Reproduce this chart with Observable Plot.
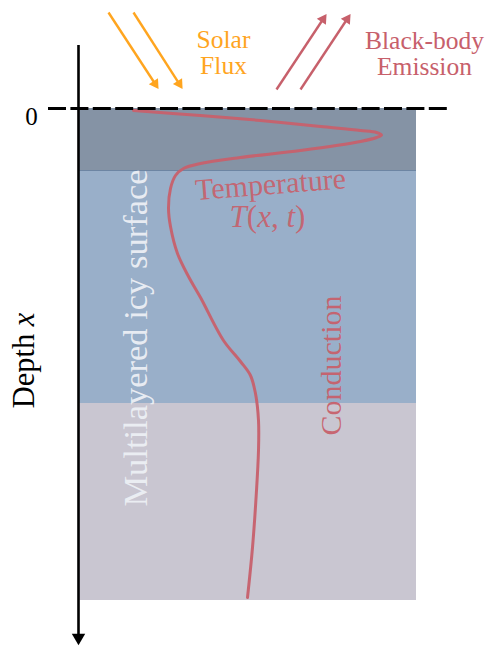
<!DOCTYPE html>
<html><head><meta charset="utf-8">
<script src="https://cdn.jsdelivr.net/npm/d3@7"></script>
<script src="https://cdn.jsdelivr.net/npm/@observablehq/plot@0.6"></script>
<style>body{margin:0;background:#fff}#chart svg{display:block}#chart svg text{font-family:'Liberation Serif','Times New Roman',serif}</style>
</head><body><div id="chart"></div>
<script>
// Layers of the icy surface (depth units, 0 = surface)
const layerNames = ["Surface layer", "Middle layer", "Deep layer"];
const layerTop = [0, 62, 295];
const layerBottom = [62, 295, 492];
const layerColors = ["#8593a5", "#99afc9", "#c9c6d1"];

// Temperature profile T(x,t): horizontal position vs depth
const tempX =     [133, 200, 260, 320, 360, 376, 381, 376, 360, 300, 240, 200, 183, 175, 170, 168, 170, 177, 188, 200, 223, 240, 250, 255, 258, 258, 256, 252, 247];
const tempDepth = [  2,   7,  12,  18,  22,  24,  26.5, 29, 33,  42,  49,  55,  60,  67,  80, 100, 118, 145, 168, 189, 232, 253, 267, 285, 312, 342, 382, 439, 489];

// Incoming solar flux arrows and outgoing black-body emission arrows
const solarX1 = [108, 133], solarD1 = [-96, -96], solarX2 = [159, 183], solarD2 = [-18, -18];
const emitX1 = [276, 300], emitD1 = [-19, -19], emitX2 = [327, 351], emitD2 = [-96, -96];

const labels = ["0", "Solar", "Flux", "Black-body", "Emission", "Temperature", "T(x, t)", "Multilayered icy surface", "Conduction", "Depth x"];

const orange = "#ffa51f";
const red = "#c7606b";

const layers = layerNames.map((n, i) => ({name: n, top: layerTop[i], bottom: layerBottom[i], color: layerColors[i]}));
const temp = tempX.map((x, i) => ({x, d: tempDepth[i]}));

function arrows(x1s, d1s, x2s, d2s) {
  return x1s.map((x1, i) => {
    const d1 = d1s[i], x2 = x2s[i], d2 = d2s[i];
    const dx = x2 - x1, dy = d2 - d1, L = Math.hypot(dx, dy), ux = dx / L, uy = dy / L;
    return {x1, d1, x2: x2 - 6 * ux, d2: d2 - 6 * uy, hx: x2 - 8 * ux, hd: d2 - 8 * uy,
            rot: Math.atan2(dx, -dy) * 180 / Math.PI};
  });
}
const solar = arrows(solarX1, solarD1, solarX2, solarD2);
const emit = arrows(emitX1, emitD1, emitX2, emitD2);

const F = "'Liberation Serif', serif";
const T = (label, o) => Plot.text([label], {text: d => d, fontFamily: F, ...o});
const plot = Plot.plot({
  width: 490, height: 646,
  margin: 0,
  x: {domain: [0, 490], range: [0, 490], axis: null},
  y: {domain: [-108, 538], range: [0, 646], axis: null},
  style: {fontFamily: F, background: "#fff", overflow: "visible"},
  marks: [
    Plot.rectY(layers, {x1: 78, x2: 416, y1: "top", y2: "bottom", fill: "color"}),
    Plot.ruleY([layerBottom[0]], {x1: 78, x2: 416, stroke: "#6d85a3", strokeWidth: 1}),
    T(labels[7], {x: 135.5, y: 229.5, rotate: -90, fontSize: 34.5, fill: "#edf0f5", fillOpacity: 0.95}),
    T(labels[8], {x: 330.5, y: 257, rotate: -90, fontSize: 30, fill: red, fillOpacity: 0.95}),
    T(labels[5], {x: 270, y: 76, rotate: -4.5, fontSize: 30, fill: red, fillOpacity: 0.92}),
    T(labels[6], {x: 267, y: 109, fontSize: 31, fill: red, fillOpacity: 0.92}),
    Plot.line(temp, {x: "x", y: "d", curve: "catmull-rom", stroke: red, strokeWidth: 3, strokeOpacity: 0.95}),
    Plot.ruleY([0], {x1: 48, x2: 447.6, stroke: "#000", strokeWidth: 3, strokeDasharray: "18,4.4"}),
    Plot.ruleX([78], {y1: -63, y2: 530, stroke: "#000", strokeWidth: 2.6}),
    Plot.dot([{x: 78, d: 529}], {x: "x", y: "d", symbol: "triangle2", r: 6.4, rotate: 180, fill: "#000", stroke: "none"}),
    Plot.link(solar, {x1: "x1", y1: "d1", x2: "x2", y2: "d2", stroke: orange, strokeWidth: 2.4}),
    Plot.dot(solar, {x: "hx", y: "hd", symbol: "triangle2", r: 5.2, rotate: "rot", fill: orange, stroke: "none"}),
    Plot.link(emit, {x1: "x1", y1: "d1", x2: "x2", y2: "d2", stroke: red, strokeWidth: 2.4}),
    Plot.dot(emit, {x: "hx", y: "hd", symbol: "triangle2", r: 5.2, rotate: "rot", fill: red, stroke: "none"}),
    T(labels[0], {x: 31, y: 8, fontSize: 25, fill: "#000"}),
    T(labels[1], {x: 223, y: -68.5, fontSize: 25.5, fill: orange}),
    T(labels[2], {x: 223, y: -43, fontSize: 25.5, fill: orange}),
    T(labels[3], {x: 424, y: -67.5, fontSize: 25.5, fill: red}),
    T(labels[4], {x: 424, y: -42, fontSize: 25.5, fill: red}),
    T(labels[9], {x: 24, y: 252, rotate: -90, fontSize: 30.5, fill: "#000"})
  ]
});
document.getElementById("chart").appendChild(plot);

// italic math variables
d3.select(plot).selectAll("text").each(function() {
  const t = this.textContent;
  if (t === "T(x, t)") this.innerHTML = '<tspan font-style="italic">T</tspan>(<tspan font-style="italic">x</tspan>, <tspan font-style="italic">t</tspan>)';
  if (t === "Depth x") this.innerHTML = 'Depth <tspan font-style="italic">x</tspan>';
});
</script>
</body></html>
